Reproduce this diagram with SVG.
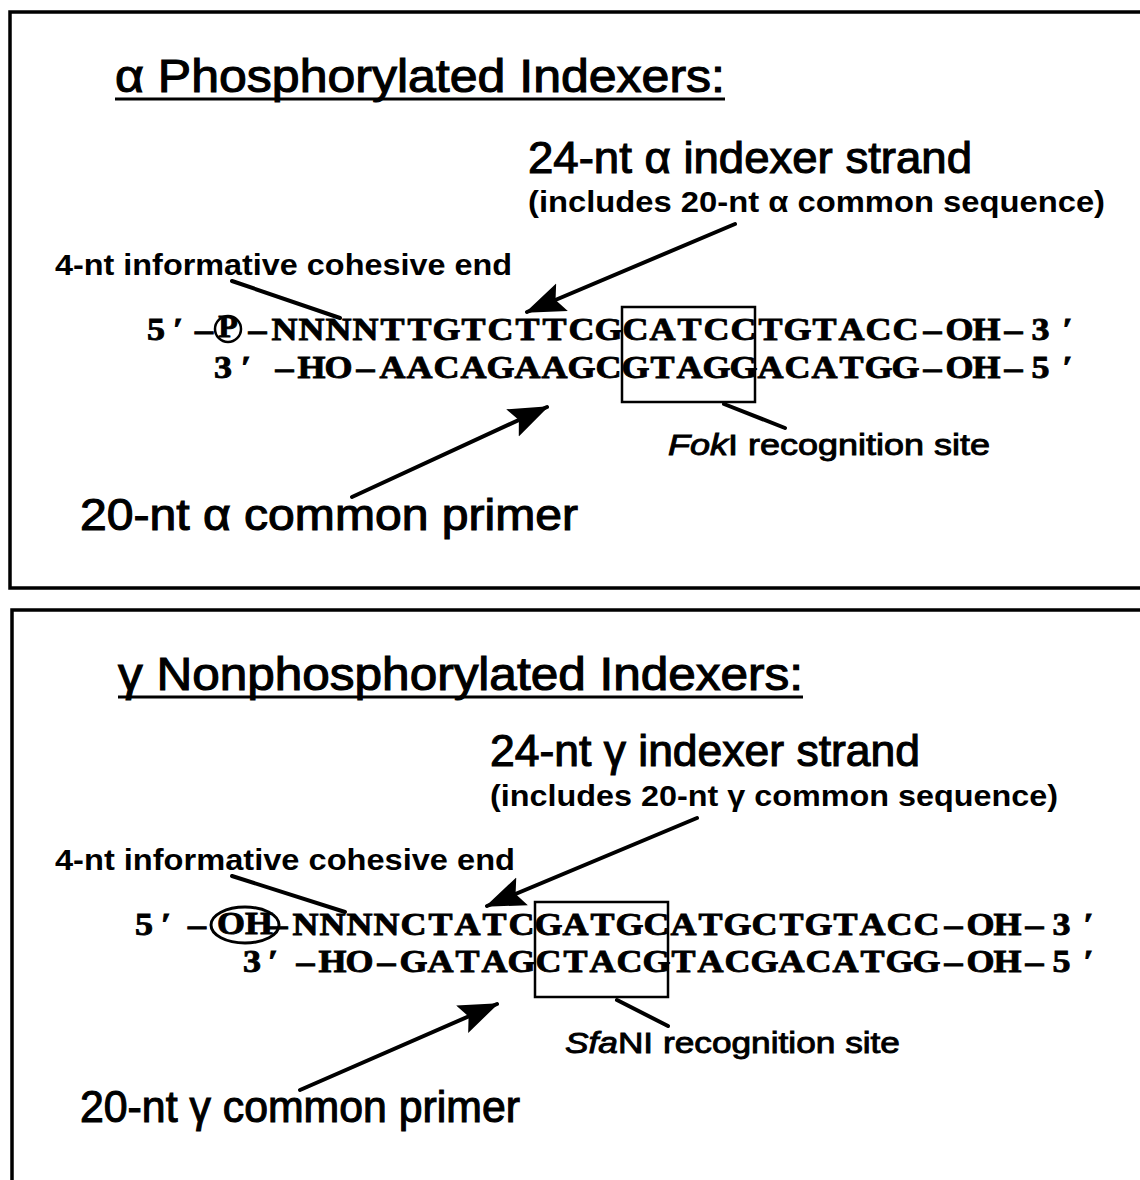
<svg xmlns="http://www.w3.org/2000/svg" width="1140" height="1180" viewBox="0 0 1140 1180">
<defs>
<style>
.panel{fill:none;stroke:#000;stroke-width:3.5}
.t{font-family:"Liberation Sans",Arial,sans-serif;fill:#000}
.big{font-size:44px;stroke:#000;stroke-width:1.1}
.title{font-size:46px;stroke:#000;stroke-width:1.1}
.sm{font-size:30px;font-weight:bold}
.mid{font-size:29px;stroke:#000;stroke-width:0.9}
.seq{font-family:"Liberation Serif","Times New Roman",serif;font-weight:bold;font-size:32px;fill:#000;stroke:#000;stroke-width:0.9;text-anchor:middle}
.ln{stroke:#000;stroke-width:4;fill:none;stroke-linecap:round}
.box{fill:none;stroke:#000;stroke-width:2.5}
</style>
<marker id="ah" markerUnits="userSpaceOnUse" markerWidth="40" markerHeight="34" viewBox="0 0 40 34" refX="38" refY="17" orient="auto">
<path d="M0,2 L40,17 L0,32 L7,17 Z" fill="#000"/>
</marker>
</defs>

<g id="panel-alpha">
<rect class="panel" x="10" y="12" width="1150" height="576"/>
<text class="t title" x="115" y="92" textLength="610" lengthAdjust="spacingAndGlyphs">α Phosphorylated Indexers:</text>
<line x1="115" y1="99" x2="725" y2="99" stroke="#000" stroke-width="3"/>
</g>

<g id="label-alpha-indexer">
<text class="t big" x="528" y="173" textLength="444" lengthAdjust="spacingAndGlyphs">24-nt α indexer strand</text>
<text class="t sm" x="528" y="212" textLength="577" lengthAdjust="spacingAndGlyphs">(includes 20-nt α common sequence)</text>
</g>
<g id="label-alpha-cohesive">
<text class="t sm" x="55" y="275" textLength="457" lengthAdjust="spacingAndGlyphs">4-nt informative cohesive end</text>
</g>

<g id="seq-alpha">
<g transform="translate(145,0) scale(1.125,1)">
<text class="seq" x="9.8 29.3 52.4" y="340">5′–</text>
</g>
<circle cx="228" cy="329" r="13" fill="none" stroke="#000" stroke-width="2.5"/>
<text class="seq" x="228" y="337" font-size="21" stroke-width="0.4">P</text>
<g transform="translate(244,0) scale(1.125,1)">
<text class="seq" y="340" x="12 36 60 84 108 132 156 180 204 228 252 276 300 324 348 372 396 420 444 468 492 516 540 564 588 612 636 660 684 708 732">–NNNNTTGTCTTCGCATCCTGTACC–OH–3′</text>
</g>
<g transform="translate(271,0) scale(1.125,1)">
<text class="seq" y="378" x="-42.7 -22.2">3′</text>
<text class="seq" y="378" x="12 36 60 84 108 132 156 180 204 228 252 276 300 324 348 372 396 420 444 468 492 516 540 564 588 612 636 660 684 708">–HO–AACAGAAGCGTAGGACATGG–OH–5′</text>
</g>
<rect class="box" x="622" y="307" width="133" height="95"/>
</g>

<g id="label-alpha-fok">
<text class="t mid" x="668" y="455" textLength="322" lengthAdjust="spacingAndGlyphs"><tspan font-style="italic">Fok</tspan>I recognition site</text>
</g>
<g id="label-alpha-primer">
<text class="t big" x="80" y="530" textLength="498" lengthAdjust="spacingAndGlyphs">20-nt α common primer</text>
</g>

<g id="panel-gamma">
<rect class="panel" x="12" y="610" width="1150" height="600"/>
<text class="t title" x="118" y="690" textLength="685" lengthAdjust="spacingAndGlyphs">γ Nonphosphorylated Indexers:</text>
<line x1="118" y1="697" x2="803" y2="697" stroke="#000" stroke-width="3"/>
</g>

<g id="label-gamma-indexer">
<text class="t big" x="490" y="766" textLength="430" lengthAdjust="spacingAndGlyphs">24-nt γ indexer strand</text>
<text class="t sm" x="490" y="806" textLength="568" lengthAdjust="spacingAndGlyphs">(includes 20-nt γ common sequence)</text>
</g>
<g id="label-gamma-cohesive">
<text class="t sm" x="55" y="870" textLength="460" lengthAdjust="spacingAndGlyphs">4-nt informative cohesive end</text>
</g>

<g id="seq-gamma">
<g transform="translate(133,0) scale(1.125,1)">
<text class="seq" x="9.8 29.3 56.9" y="935">5′–</text>
</g>
<ellipse cx="245" cy="925" rx="34" ry="18" fill="none" stroke="#000" stroke-width="3"/>
<g transform="translate(245,0) scale(1.125,1)">
<text class="seq" x="0" y="934" font-size="26" stroke-width="0.7">OH</text>
</g>
<g transform="translate(265,0) scale(1.125,1)">
<text class="seq" y="935" x="12 36 60 84 108 132 156 180 204 228 252 276 300 324 348 372 396 420 444 468 492 516 540 564 588 612 636 660 684 708 732">–NNNNCTATCGATGCATGCTGTACC–OH–3′</text>
</g>
<g transform="translate(292,0) scale(1.125,1)">
<text class="seq" y="972" x="-35.6 -16.9">3′</text>
<text class="seq" y="972" x="12 36 60 84 108 132 156 180 204 228 252 276 300 324 348 372 396 420 444 468 492 516 540 564 588 612 636 660 684 708">–HO–GATAGCTACGTACGACATGG–OH–5′</text>
</g>
<rect class="box" x="535" y="902" width="133" height="95"/>
</g>

<g id="label-gamma-sfa">
<text class="t mid" x="565" y="1053" textLength="335" lengthAdjust="spacingAndGlyphs"><tspan font-style="italic">Sfa</tspan>NI recognition site</text>
</g>
<g id="label-gamma-primer">
<text class="t big" x="80" y="1122" textLength="440" lengthAdjust="spacingAndGlyphs">20-nt γ common primer</text>
</g>

<g id="connectors">
<line class="ln" x1="232" y1="281" x2="340" y2="318"/>
<line class="ln" x1="735" y1="224" x2="527" y2="312" marker-end="url(#ah)"/>
<line class="ln" x1="352" y1="497" x2="547" y2="407" marker-end="url(#ah)"/>
<line class="ln" x1="724" y1="404" x2="785" y2="428"/>
<line class="ln" x1="232" y1="876" x2="345" y2="912"/>
<line class="ln" x1="697" y1="818" x2="487" y2="906" marker-end="url(#ah)"/>
<line class="ln" x1="300" y1="1090" x2="497" y2="1004" marker-end="url(#ah)"/>
<line class="ln" x1="617" y1="1000" x2="668" y2="1026"/>
</g>
</svg>
